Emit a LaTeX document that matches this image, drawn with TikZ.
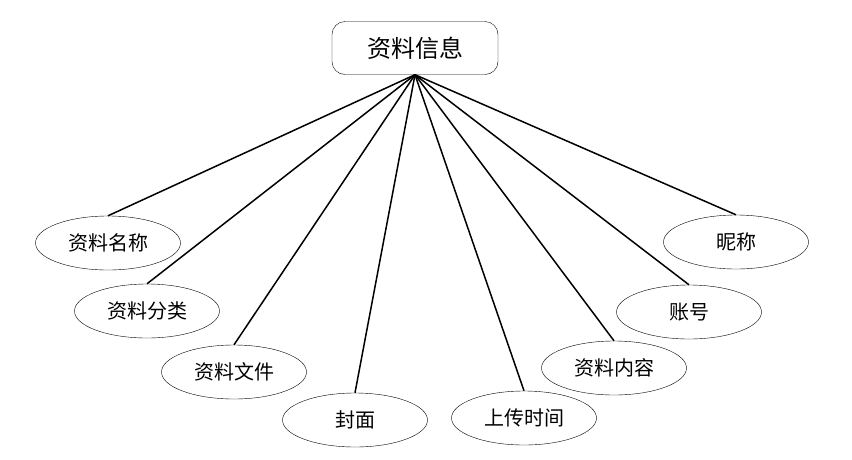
\documentclass[tikz,border=0pt]{standalone}
\usepackage{fontspec}
\setmainfont{Noto Sans CJK SC}
\usetikzlibrary{shapes.geometric,positioning}

\begin{document}
\begin{tikzpicture}
                    [x=1pt, y=-1pt]
                    \tikzset{attr/.style = {ellipse, draw, thin, minimum width=145pt, minimum height=54pt, inner sep=0pt, font=\fontsize{20}{20}\selectfont}}
                    \tikzset{entity/.style = {rectangle, draw, thin, rounded corners=13pt, minimum width=166pt, minimum height=53pt, font=\fontsize{24}{24}\selectfont}}
                    \tikzset{edge/.style = {line width=1.5pt}}
                    \useasboundingbox (0,0) rectangle (852,459);
                    \node[entity] (info) at (415,48)  {资料信息};
                    \node[attr] (a1) at (108,243) {资料名称};
                    \node[attr] (a2) at (147,311) {资料分类};
                    \node[attr] (a3) at (234,372) {资料文件};
                    \node[attr] (a4) at (355,420) {封面};
                    \node[attr] (a5) at (524,418) {上传时间};
                    \node[attr] (a6) at (614,368) {资料内容};
                    \node[attr] (a7) at (689,312) {账号};
                    \node[attr] (a8) at (736,242) {昵称};

                    \foreach \to in {a1,a2,a3,a4,a5,a6,a7,a8}
                        \draw[edge] (info.south) -- (\to.north);
                \end{tikzpicture}
\end{document}
